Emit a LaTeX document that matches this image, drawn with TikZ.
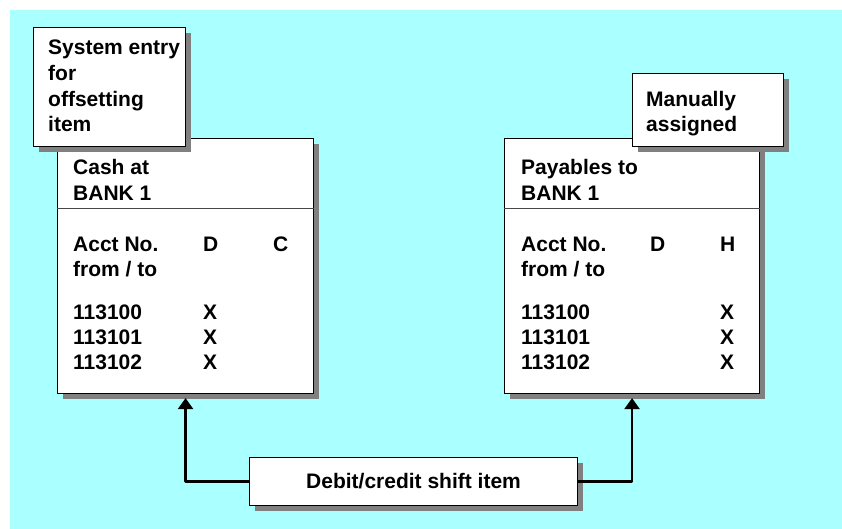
\documentclass[tikz,border=0pt]{standalone}
\usepackage{fontspec}
\setmainfont{Liberation Sans}
\usetikzlibrary{arrows.meta,shadows}
\definecolor{panel}{RGB}{170,255,255}
\definecolor{shade}{RGB}{128,128,128}
\definecolor{rulegray}{RGB}{70,70,70}

\begin{document}
\begin{tikzpicture}[x=1pt,y=-1pt,
  lbl/.style={anchor=base west,inner sep=0pt,font=\fontsize{21}{25}\selectfont\bfseries},
  card/.style={rectangle,draw=black,line width=1.1pt,fill=white,inner sep=0pt,
    anchor=north west,
    drop shadow={shadow xshift=5pt,shadow yshift=-5pt,fill=shade,opacity=1}},
  divider/.style={draw=rulegray,line width=1pt},
  link/.style={line width=2.4pt,line join=round,-{Triangle[width=15pt,length=11pt]}}
]
% canvas and backdrop
\useasboundingbox (0,0) rectangle (842,529);
\fill[white] (0,0) rectangle (842,529);
\fill[panel] (10,10) rectangle (842,529);

% account cards
\node[card,minimum width=256pt,minimum height=255pt] (cash) at (57,138) {};
\node[card,minimum width=255pt,minimum height=255pt] (pay) at (504,138) {};
\draw[divider] ([yshift=-71pt]cash.north west) -- ([yshift=-71pt]cash.north east);
\draw[divider] ([yshift=-71pt]pay.north west) -- ([yshift=-71pt]pay.north east);

% left card text
\node[lbl] (c1) at (73,175) {Cash at};
\node[lbl] (c2) at (73,201) {BANK 1};
\node[lbl] (c3) at (73,251) {Acct No.};
\node[lbl] (c4) at (73,276) {from / to};
\node[lbl] (cD) at (203,251) {D};
\node[lbl] (cC) at (273,251) {C};
\node[lbl] (c5) at (73,319) {113100};
\node[lbl] (c6) at (73,344) {113101};
\node[lbl] (c7) at (73,369) {113102};
\node[lbl] (cx1) at (203,319) {X};
\node[lbl] (cx2) at (203,344) {X};
\node[lbl] (cx3) at (203,369) {X};

% right card text
\node[lbl] (p1) at (521,175) {Payables to};
\node[lbl] (p2) at (521,201) {BANK 1};
\node[lbl] (p3) at (521,251) {Acct No.};
\node[lbl] (p4) at (521,276) {from / to};
\node[lbl] (pD) at (650,251) {D};
\node[lbl] (pH) at (720,251) {H};
\node[lbl] (p5) at (521,319) {113100};
\node[lbl] (p6) at (521,344) {113101};
\node[lbl] (p7) at (521,369) {113102};
\node[lbl] (px1) at (720,319) {X};
\node[lbl] (px2) at (720,344) {X};
\node[lbl] (px3) at (720,369) {X};

% shift item and its connectors
\node[card,minimum width=328pt,minimum height=48pt] (shift) at (249,457) {};
\node[font=\fontsize{21}{25}\selectfont\bfseries,inner sep=0pt] (shiftlbl) at (shift.center) {Debit/credit shift item};
\draw[link] (shift.west) -| ([yshift=-4pt]cash.south);
\draw[link] (shift.east) -| ([yshift=-4pt]pay.south);

% callouts
\node[card,minimum width=152pt,minimum height=119pt] (sys) at (33,27) {};
\node[lbl] (s1) at (48,55) {System entry};
\node[lbl] (s2) at (48,81) {for};
\node[lbl] (s3) at (48,107) {offsetting};
\node[lbl] (s4) at (48,132) {item};

\node[card,minimum width=151pt,minimum height=73pt] (man) at (632,73) {};
\node[lbl] (m1) at (646,107) {Manually};
\node[lbl] (m2) at (646,132) {assigned};
\end{tikzpicture}
\end{document}
